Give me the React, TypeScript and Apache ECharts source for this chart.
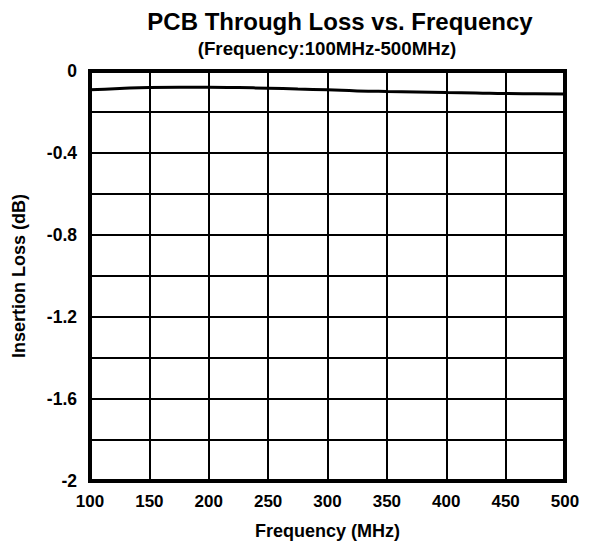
import React, { useEffect, useRef } from "react";
import * as echarts from "echarts";

const frequencies = [100, 125, 150, 175, 200, 225, 250, 275, 300, 325, 350, 375, 400, 425, 450, 475, 500];
const insertionLoss = [-0.092, -0.085, -0.08, -0.079, -0.079, -0.081, -0.084, -0.088, -0.092, -0.097, -0.1, -0.102, -0.105, -0.107, -0.11, -0.111, -0.112];
const yLabelValues = [0, -0.4, -0.8, -1.2, -1.6, -2];

export default function App() {
  const ref = useRef<HTMLDivElement>(null);
  useEffect(() => {
    const chart = echarts.init(ref.current!, undefined, { renderer: "svg" });
    const font = "'Liberation Sans', Arial, sans-serif";
    chart.setOption({
      animation: false,
      backgroundColor: "#fff",
      title: [
        {
          text: "PCB Through Loss vs. Frequency",
          left: 335,
          textAlign: "center",
          top: 4,
          textStyle: { fontFamily: font, fontWeight: "bold", fontSize: 24, color: "#000" },
        },
        {
          text: "(Frequency:100MHz-500MHz)",
          left: 322,
          textAlign: "center",
          top: 34,
          textStyle: { fontFamily: font, fontWeight: "bold", fontSize: 18.7, color: "#000" },
        },
      ],
      grid: {
        left: 90,
        right: 24,
        top: 71,
        bottom: 66,
        show: true,
        borderColor: "#000",
        borderWidth: 4,
        containLabel: false,
      },
      xAxis: {
        type: "value",
        min: 100,
        max: 500,
        interval: 50,
        name: "Frequency (MHz)",
        nameLocation: "middle",
        nameGap: 41,
        nameTextStyle: { fontFamily: font, fontWeight: "bold", fontSize: 18, color: "#000" },
        axisLine: { show: true, lineStyle: { color: "#000", width: 4 } },
        axisTick: { show: false },
        axisLabel: { fontFamily: font, fontWeight: "bold", fontSize: 17, color: "#000", margin: 12 },
        splitLine: { show: true, lineStyle: { color: "#000", width: 2 } },
      },
      yAxis: {
        type: "value",
        min: -2,
        max: 0,
        interval: 0.2,
        name: "Insertion Loss (dB)",
        nameLocation: "middle",
        nameGap: 62,
        nameTextStyle: { fontFamily: font, fontWeight: "bold", fontSize: 18, color: "#000" },
        axisLine: { show: true, lineStyle: { color: "#000", width: 4 } },
        axisTick: { show: false },
        axisLabel: {
          fontFamily: font,
          fontWeight: "bold",
          fontSize: 17.5,
          color: "#000",
          margin: 13,
          formatter: (v: number) => {
            const m = yLabelValues.find((y) => Math.abs(y - v) < 1e-6);
            return m === undefined ? "" : String(m);
          },
        },
        splitLine: { show: true, lineStyle: { color: "#000", width: 2 } },
      },
      series: [
        {
          type: "line",
          data: frequencies.map((f, i) => [f, insertionLoss[i]]),
          showSymbol: false,
          smooth: true,
          lineStyle: { color: "#000", width: 3 },
        },
      ],
    });
    return () => chart.dispose();
  }, []);
  return (
    <div
      ref={ref}
      style={{ position: "fixed", left: 0, top: 0, width: 589, height: 547 }}
    />
  );
}
